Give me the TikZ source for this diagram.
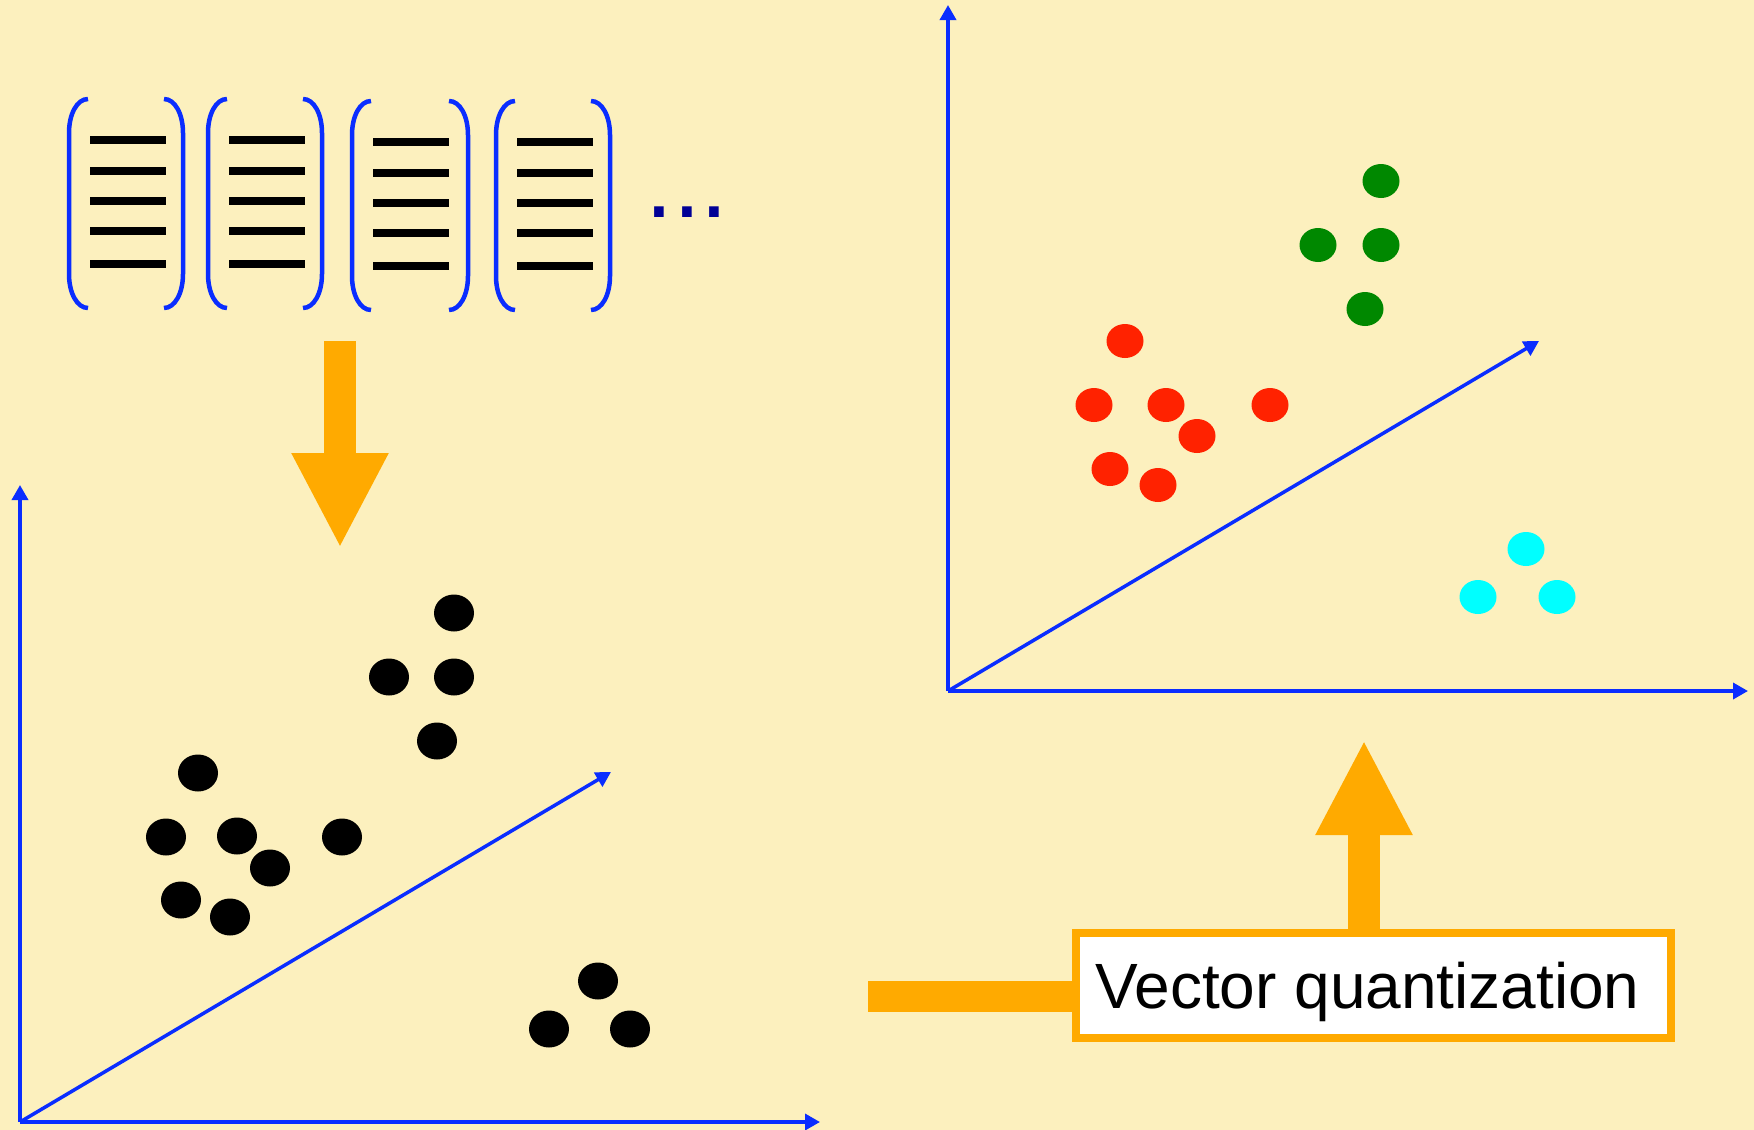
\documentclass[tikz,border=0pt]{standalone}
\usepackage{fontspec}
\newfontfamily\arial{Liberation Sans}
\usetikzlibrary{arrows.meta}
\definecolor{bg}{RGB}{252,240,190}
\definecolor{axisblue}{RGB}{10,45,255}
\definecolor{vqorange}{RGB}{255,170,0}
\definecolor{dotnavy}{RGB}{0,0,150}
\definecolor{ptred}{RGB}{255,34,0}
\definecolor{ptgreen}{RGB}{0,136,0}
\definecolor{ptcyan}{RGB}{0,255,255}
\begin{document}
\begin{tikzpicture}[x=1pt,y=-1pt,
  axis/.style={axisblue,line width=3.5pt,-{Triangle[length=15pt,width=16pt]}},
  brk/.style={axisblue,line width=4.5pt},
  entry/.style={black,line width=8pt},
  bigarrow/.style={vqorange,line width=32pt,-{Triangle[length=95pt,width=90pt]}},
  bar/.style={vqorange,line width=31pt},
  vqbox/.style={draw=vqorange,line width=8pt,fill=white,minimum width=595pt,minimum height=105pt,inner sep=0pt,font=\arial\fontsize{64}{64}\selectfont,text depth=0pt},
]
\fill[bg] (0,0) rectangle (1754,1130);
\useasboundingbox (0,0) rectangle (1754,1130);

% left plot axes
\coordinate (LO) at (20,1122);
\coordinate (LY) at (20,485);
\coordinate (LX) at (820,1122);
\coordinate (LZ) at (611,772);
\draw[axis] (LO) -- (LY);
\draw[axis] (LO) -- (LX);
\draw[axis] (LO) -- (LZ);

% right plot axes
\coordinate (RO) at (948,691);
\coordinate (RY) at (948,5);
\coordinate (RX) at (1748,691);
\coordinate (RZ) at (1539,341);
\draw[axis] (RO) -- (RY);
\draw[axis] (RO) -- (RX);
\draw[axis] (RO) -- (RZ);

% feature vectors
\foreach \xl/\xr/\t/\b/\la/\lb/\yo in {69/183/99/308/90/166/0, 208/322/99/308/229/305/0, 352/468/101/310/373/449/2, 496/610/101/310/517/593/2}
{
  \draw[brk] (\xl+19,\t) .. controls (\xl+8,\t) and (\xl,\t+15) .. (\xl,\t+34) -- (\xl,\b-34) .. controls (\xl,\b-15) and (\xl+8,\b) .. (\xl+19,\b);
  \draw[brk] (\xr-19,\t) .. controls (\xr-8,\t) and (\xr,\t+15) .. (\xr,\t+34) -- (\xr,\b-34) .. controls (\xr,\b-15) and (\xr-8,\b) .. (\xr-19,\b);
  \foreach \y in {140,171,201,231,264} \draw[entry] (\la,\y+\yo) -- (\lb,\y+\yo);
}
\node[font=\arial\fontsize{100}{100}\selectfont, text=dotnavy, anchor=base west, inner sep=0pt] (ellipsis) at (645,217) {...};

% black points
\foreach \x/\y in {454/613, 389/677, 454/677, 437/741, 198/773, 166/837, 237/836, 342/837, 270/868, 181/900, 230/917, 598/981, 549/1029, 630/1029}
  \fill[black] (\x,\y) ellipse [x radius=20pt, y radius=18.5pt];

% coloured points
\foreach \x/\y in {1381/181, 1318/245, 1381/245, 1365/309}
  \fill[ptgreen] (\x,\y) ellipse [x radius=18.5pt, y radius=17pt];
\foreach \x/\y in {1125/341, 1094/405, 1166/405, 1270/405, 1197/436, 1110/469, 1158/485}
  \fill[ptred] (\x,\y) ellipse [x radius=18.5pt, y radius=17pt];
\foreach \x/\y in {1526/549, 1478/597, 1557/597}
  \fill[ptcyan] (\x,\y) ellipse [x radius=18.5pt, y radius=17pt];

% orange arrows and box
\coordinate (vecsout) at (340,341);
\coordinate (plotin) at (340,548);
\draw[bigarrow] (vecsout) -- (plotin);

\node[vqbox] (vq) at (1373.5,985.5) {\hspace*{-12pt}Vector quantization};
\coordinate (rtip) at (1364,740);
\draw[bigarrow] (vq.north -| rtip) -- (rtip);
\coordinate (barstart) at (868,996.5);
\draw[bar] (barstart) -- (barstart -| vq.west);
\end{tikzpicture}
\end{document}
